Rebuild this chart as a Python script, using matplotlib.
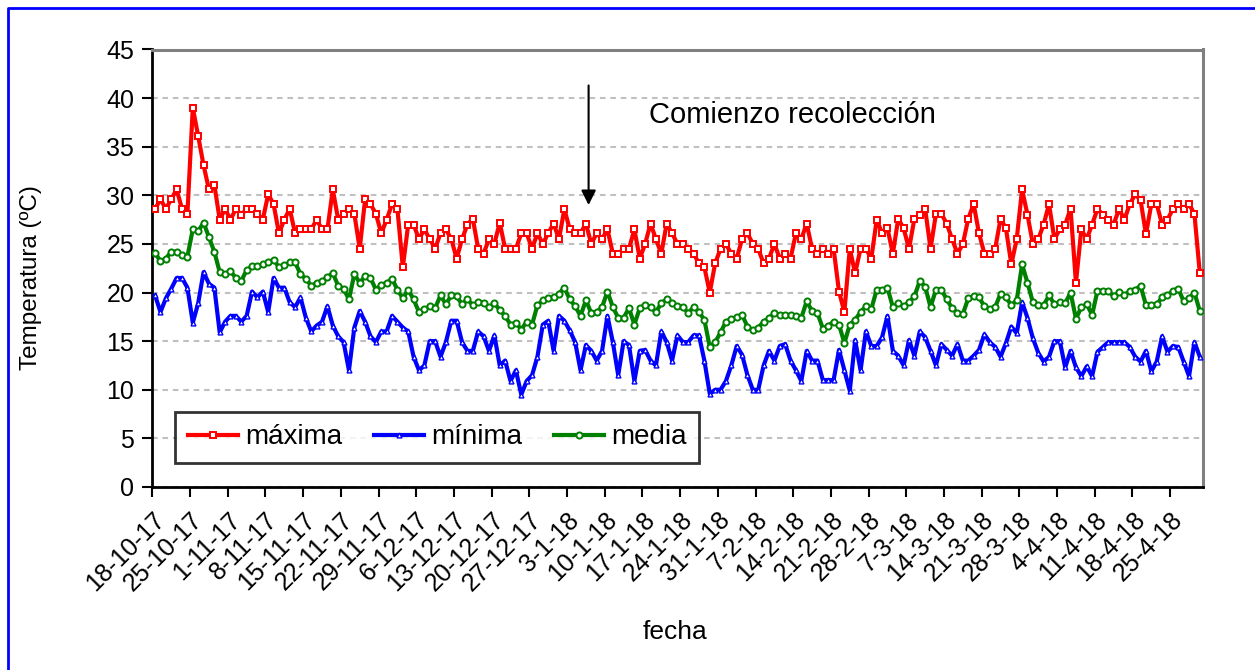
import numpy as np
import matplotlib
matplotlib.use("Agg")
import matplotlib.pyplot as plt
from matplotlib.lines import Line2D

plt.rcParams['font.family'] = ['Liberation Sans', 'DejaVu Sans']

tick_labels = ["18-10-17", "25-10-17", "1-11-17", "8-11-17", "15-11-17", "22-11-17",
               "29-11-17", "6-12-17", "13-12-17", "20-12-17", "27-12-17", "3-1-18",
               "10-1-18", "17-1-18", "24-1-18", "31-1-18", "7-2-18", "14-2-18",
               "21-2-18", "28-2-18", "7-3-18", "14-3-18", "21-3-18", "28-3-18",
               "4-4-18", "11-4-18", "18-4-18", "25-4-18"]

maxima = [28.6, 29.6, 28.6, 29.6, 30.6, 28.6, 28.1, 39.0, 36.1, 33.1,
          30.6, 31.1, 27.5, 28.6, 27.5, 28.6, 28.0, 28.6, 28.6, 28.1,
          27.5, 30.1, 29.1, 26.1, 27.5, 28.6, 26.1, 26.5, 26.5, 26.5,
          27.5, 26.5, 26.5, 30.6, 27.5, 28.1, 28.6, 28.1, 24.5, 29.6,
          29.1, 28.1, 26.1, 27.5, 29.1, 28.6, 22.6, 27.0, 27.0, 25.5,
          26.5, 25.5, 24.5, 26.1, 26.5, 25.5, 23.5, 25.5, 27.0, 27.6,
          24.5, 24.0, 25.5, 25.0, 27.2, 24.5, 24.5, 24.5, 26.1, 26.1,
          24.5, 26.1, 25.0, 26.1, 27.1, 25.5, 28.6, 26.5, 26.1, 26.1,
          27.1, 25.0, 26.1, 25.5, 26.5, 24.0, 24.0, 24.5, 24.5, 26.5,
          23.5, 25.0, 27.1, 25.5, 24.0, 27.1, 26.1, 25.0, 25.0, 24.5,
          24.0, 23.0, 22.6, 20.0, 23.0, 24.5, 25.0, 24.0, 23.5, 25.5,
          26.1, 25.0, 24.5, 23.0, 23.5, 25.0, 23.5, 24.0, 23.5, 26.1,
          25.5, 27.1, 24.5, 24.0, 24.5, 24.0, 24.5, 20.1, 18.0, 24.5,
          22.0, 24.5, 24.5, 23.5, 27.5, 26.1, 26.6, 24.0, 27.6, 26.6,
          24.5, 27.6, 28.0, 28.6, 24.5, 28.1, 28.1, 27.1, 25.5, 24.0,
          25.0, 27.6, 29.1, 26.1, 24.0, 24.0, 24.5, 27.6, 26.6, 22.9,
          25.5, 30.6, 28.0, 25.0, 25.5, 27.0, 29.1, 25.5, 26.5, 27.0,
          28.6, 21.0, 26.5, 25.5, 27.0, 28.6, 28.0, 27.5, 27.0, 28.6,
          27.5, 29.1, 30.1, 29.5, 26.0, 29.1, 29.1, 27.0, 27.5, 28.6,
          29.1, 28.6, 29.1, 28.1, 22.0]

minima = [19.7, 18.0, 19.4, 20.4, 21.5, 21.5, 20.5, 16.9, 18.9, 22.1,
          20.9, 20.5, 15.9, 17.0, 17.6, 17.6, 17.0, 17.6, 20.1, 19.5,
          20.1, 18.0, 21.5, 20.5, 20.5, 19.0, 18.5, 19.5, 17.4, 16.0,
          16.6, 17.0, 18.6, 16.6, 15.5, 14.9, 12.0, 16.4, 18.1, 17.0,
          15.5, 14.9, 16.0, 16.0, 17.6, 17.0, 16.4, 16.0, 13.4, 12.0,
          12.5, 15.0, 15.0, 13.4, 14.9, 17.1, 17.1, 14.9, 14.0, 14.0,
          16.0, 15.5, 14.0, 15.6, 12.5, 13.0, 10.9, 12.0, 9.5, 10.9,
          11.5, 13.4, 16.7, 17.1, 14.0, 17.6, 17.1, 16.1, 14.9, 12.0,
          14.6, 14.0, 13.0, 14.0, 17.6, 14.9, 11.5, 15.0, 14.6, 10.9,
          14.0, 14.1, 13.0, 12.5, 16.0, 14.9, 13.0, 15.6, 14.9, 14.9,
          15.6, 15.6, 13.0, 9.6, 10.0, 10.0, 10.9, 12.5, 14.5, 13.6,
          11.5, 10.0, 10.0, 12.5, 14.0, 13.0, 14.5, 14.7, 13.0, 12.0,
          10.9, 14.0, 13.0, 13.0, 11.0, 11.0, 11.0, 14.1, 12.0, 9.9,
          15.1, 12.0, 16.0, 14.5, 14.5, 15.4, 17.6, 14.0, 13.5, 12.5,
          15.1, 13.5, 16.0, 15.4, 14.0, 12.5, 14.7, 14.1, 13.5, 14.7,
          13.0, 13.0, 13.5, 14.1, 15.7, 14.9, 14.4, 13.4, 14.8, 16.5,
          15.8, 19.0, 17.4, 15.3, 13.8, 12.9, 13.4, 15.0, 15.0, 12.3,
          14.0, 12.3, 11.4, 12.4, 11.4, 13.9, 14.4, 14.9, 14.9, 14.9,
          14.9, 14.4, 13.4, 12.9, 14.0, 11.9, 12.9, 15.5, 13.9, 14.5,
          14.4, 12.9, 11.4, 14.9, 13.4]

media = [24.1, 23.2, 23.5, 24.2, 24.2, 23.9, 23.7, 26.5, 26.3, 27.2,
         25.7, 24.2, 22.1, 21.9, 22.2, 21.5, 21.2, 22.3, 22.7, 22.7,
         22.9, 23.1, 23.4, 22.6, 22.8, 23.1, 23.1, 21.9, 21.4, 20.7,
         21.0, 21.2, 21.6, 22.0, 20.7, 20.4, 19.3, 21.9, 21.0, 21.7,
         21.5, 20.3, 20.8, 21.0, 21.4, 20.3, 19.4, 20.3, 19.3, 18.0,
         18.3, 18.6, 18.4, 19.7, 18.8, 19.7, 19.6, 18.8, 19.3, 18.7,
         19.0, 18.9, 18.5, 18.9, 18.2, 17.6, 16.7, 16.9, 16.2, 17.0,
         16.7, 18.7, 19.2, 19.4, 19.5, 19.9, 20.5, 19.3, 18.6, 17.6,
         19.2, 17.9, 18.0, 18.5, 20.1, 18.5, 17.4, 17.4, 18.4, 16.7,
         18.4, 18.7, 18.5, 18.0, 18.9, 19.3, 18.9, 18.6, 18.5, 17.9,
         18.5, 18.0, 17.2, 14.4, 14.9, 15.9, 17.0, 17.3, 17.5, 17.7,
         16.5, 16.1, 16.4, 17.0, 17.4, 17.9, 17.7, 17.7, 17.7, 17.6,
         17.4, 19.1, 18.1, 17.9, 16.3, 16.6, 17.0, 16.7, 14.8, 16.7,
         17.2, 18.0, 18.6, 18.3, 20.3, 20.3, 20.5, 18.5, 18.9, 18.6,
         19.0, 19.6, 21.2, 20.6, 18.5, 20.3, 20.3, 19.3, 18.4, 17.9,
         17.8, 19.4, 19.6, 19.5, 18.6, 18.3, 18.5, 19.9, 19.5, 18.7,
         19.2, 22.9, 21.0, 19.0, 18.7, 18.7, 19.7, 18.8, 19.0, 18.9,
         20.0, 17.3, 18.5, 18.8, 17.7, 20.2, 20.2, 20.2, 19.6, 20.1,
         19.7, 20.2, 20.3, 20.7, 18.7, 18.7, 18.8, 19.5, 19.7, 20.2,
         20.4, 19.1, 19.4, 20.0, 18.1]

series_names = ["máxima", "mínima", "media"]
annotation_text = "Comienzo recolección"
annotation_day = 81

W, H = 1255, 670
fig = plt.figure(figsize=(W / 100, H / 100), dpi=100)
ax = fig.add_axes([152.4 / W, 1 - 487.0 / H, (1202.5 - 152.4) / W, (487.0 - 49.5) / H])

n = len(maxima)
x = np.arange(n) + 0.5

ax.yaxis.grid(True, color='#c0c0c0', linestyle=(0, (2.7, 2.3)), linewidth=1.5)
ax.set_axisbelow(True)

ax.plot(x, maxima, color='#ff0000', lw=3.0, marker='s', ms=4.4, mfc='white',
        mec='#ff0000', mew=1.4, zorder=3, label=series_names[0])
ax.plot(x, minima, color='#0000ff', lw=3.0, marker='^', ms=3.5, mfc='white',
        mec='#0000ff', mew=1.0, zorder=3, label=series_names[1])
ax.plot(x, media, color='#008000', lw=3.0, marker='o', ms=4.4, mfc='white',
        mec='#008000', mew=1.4, zorder=3, label=series_names[2])

ax.set_xlim(0, n)
ax.set_ylim(0, 45)
ax.set_yticks(np.arange(0, 46, 5))
ax.set_xticks(np.arange(0, 7 * len(tick_labels), 7))
ax.set_xticklabels(tick_labels, rotation=45, ha='right', va='top',
                   rotation_mode='anchor')
ax.tick_params(axis='both', labelsize=18, direction='out', length=7, width=1.5,
               color='black')
ax.tick_params(axis='x', pad=8)
ax.tick_params(axis='y', pad=6)

for s in ['left', 'bottom']:
    ax.spines[s].set_color('black')
    ax.spines[s].set_linewidth(2.0)
for s in ['top', 'right']:
    ax.spines[s].set_color('#808080')
    ax.spines[s].set_linewidth(2.2)

ax.set_ylabel("Temperatura (ºC)", fontsize=17.5)
ax.yaxis.set_label_coords((31 - 152.4) / 1050, (487 - 277.5) / 437.5)
ax.yaxis.label.set_va('center')
ax.set_xlabel("fecha", fontsize=19)
ax.xaxis.set_label_coords((675 - 152.4) / 1050, (487 - 632) / 437.5)
ax.xaxis.label.set_va('center')

ax.annotate("", xy=(annotation_day, 29.0), xytext=(annotation_day, 41.3),
            arrowprops=dict(arrowstyle='-|>', color='black', lw=1.5,
                            mutation_scale=22, shrinkA=0, shrinkB=0))
ax.text(92.2, 38.3, annotation_text, fontsize=21, ha='left', va='center')

leg = ax.legend(loc='lower left', bbox_to_anchor=(23.0 / 1050, 24.0 / 437.5),
                borderaxespad=0, ncol=3, fontsize=20, frameon=True,
                fancybox=False, edgecolor='black', handlelength=1.8,
                handletextpad=0.25, columnspacing=1.15, borderpad=0.45,
                markerscale=1.0)
leg.get_frame().set_linewidth(2.0)

# outer chart border (blue, top and left visible)
fig.add_artist(Line2D([8 / W, 8 / W, 1.0], [0.0, 1 - 8 / H, 1 - 8 / H],
                      color='#0000ff', lw=2.0, transform=fig.transFigure))

fig.savefig("out.png", dpi=100)
